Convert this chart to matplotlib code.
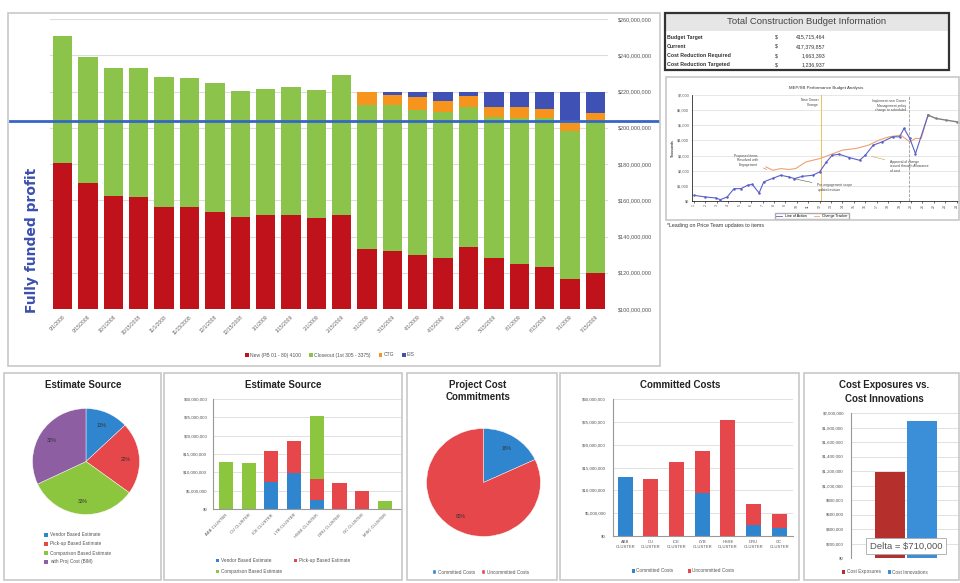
import numpy as np
import matplotlib.pyplot as plt
from matplotlib.patches import Rectangle
from matplotlib.ticker import FuncFormatter

plt.rcParams['font.family'] = ['Liberation Sans', 'DejaVu Sans']

# ---- main stacked chart (values in $M) ----
dates = ['9/1/2008', '9/15/2008', '10/1/2008', '10/15/2008', '11/1/2008', '11/15/2008',
         '12/1/2008', '12/15/2008', '1/1/2009', '1/15/2009', '2/1/2009', '2/15/2009',
         '3/1/2009', '3/15/2009', '4/1/2009', '4/15/2009', '5/1/2009', '5/15/2009',
         '6/1/2009', '6/15/2009', '7/1/2009', '7/15/2009']
new_pb = [180.6, 169.5, 162.3, 161.8, 156.3, 156.3, 153.5, 150.8, 151.9, 151.9, 150.2,
          151.9, 133.1, 132.0, 129.8, 128.1, 134.2, 128.1, 124.8, 123.2, 116.6, 119.9]
closeout = [70.0, 69.5, 70.7, 71.2, 71.7, 71.1, 71.2, 69.5, 69.5, 70.6, 70.6,
            77.2, 79.4, 80.5, 80.0, 80.6, 77.2, 77.8, 80.6, 82.2, 81.6, 84.4]
ctg = [0, 0, 0, 0, 0, 0, 0, 0, 0, 0, 0,
       0, 7.2, 5.6, 7.2, 6.1, 6.1, 5.5, 6.0, 4.9, 5.5, 3.8]
eis = [0, 0, 0, 0, 0, 0, 0, 0, 0, 0, 0,
       0, 0, 1.6, 2.7, 4.9, 2.2, 8.3, 8.3, 9.4, 16.0, 11.6]
fully_funded = 203.7

# ---- budget table ----
tbl_labels = ['Budget Target', 'Current', 'Cost Reduction Required', 'Cost Reduction Targeted']
tbl_values = [415715464, 417379857, 1663393, 1236937]

# ---- performance line chart (thousands) ----
act_x = [0, 1, 1.9, 2.3, 2.9, 3.5, 4.1, 4.7, 5.1, 5.7, 6.1, 6.9, 7.6, 8.3, 8.8, 9.5, 10.4,
         11, 11.6, 12.1, 12.7, 13.6, 14.5, 15, 15.7, 16.5, 17.4, 18, 18.4, 18.9, 19.4, 20.5]
act_y = [375, 265, 200, 90, 265, 815, 815, 1040, 1100, 530, 1260, 1500, 1700, 1590, 1480,
         1630, 1700, 1920, 2580, 3020, 3090, 2870, 2690, 3020, 3690, 3910, 4240, 4240,
         4790, 4130, 3130, 5670]
tgt_x = [6.3, 6.9, 7.6, 8.3, 8.9, 9.8, 11, 11.8, 13, 14.2, 15.3, 16.2, 17.1, 18.1, 18.9,
         19.4, 19.9, 20.5]
tgt_y = [2250, 2030, 2140, 2080, 2140, 2580, 2800, 3020, 3360, 3470, 3690, 4020, 4240,
         4350, 3910, 4130, 4130, 5670]
fc_x = [20.5, 21.2, 22.1, 23, 23.4]
fc_y = [5670, 5450, 5340, 5230, 5120]

# ---- estimate source ----
est_share = [13, 22, 33, 32]
est_names = ['Vendor Based Estimate', 'Pick-up Based Estimate',
             'Comparison Based Estimate', 'with Proj Cost (BIM)']
clusters = ['ABB CLUSTER', 'CU CLUSTER', 'ICE CLUSTER', 'LYB CLUSTER', 'HSSE CLUSTER',
            'DRU CLUSTER', 'GC CLUSTER', 'MISC CLUSTER']
est_vendor = [0, 0, 7.5, 9.7, 2.5, 0, 0, 0]
est_pickup = [0, 0, 8.4, 8.9, 5.7, 7.1, 4.8, 0]
est_comp = [12.9, 12.5, 0, 0, 17.3, 0, 0, 2.1]

# ---- commitments ----
commit_share = [18, 82]
cc_clusters = ['ABB\nCLUSTER', 'CU\nCLUSTER', 'ICE\nCLUSTER', 'LYB\nCLUSTER',
               'HSSE\nCLUSTER', 'DRU\nCLUSTER', 'GC\nCLUSTER']
committed = [13.0, 0, 0, 9.5, 0, 2.5, 1.8]
uncommitted = [0, 12.5, 16.2, 9.2, 25.3, 4.6, 3.1]

# ---- exposures ----
exposure = 1180000
innovation = 1890000

RED, GREEN, ORANGE, NAVY = '#c0121a', '#8cc34a', '#f7941e', '#3f51b5'
BLUE2, RED2, GREEN2, PURPLE = '#2f86cf', '#e5474a', '#8cc63f', '#8e5ea2'

W, H = 960, 583
fig = plt.figure(figsize=(9.6, 5.83), dpi=100)


def box(x0, y0, x1, y1):
    return [x0 / W, 1 - y1 / H, (x1 - x0) / W, (y1 - y0) / H]


def fx(x, y):
    return (x / W, 1 - y / H)


def panel(x0, y0, x1, y1, ec='#c8c8c8', lw=1.2, fc='none', z=0):
    fig.patches.append(Rectangle(fx(x0, y1), (x1 - x0) / W, (y1 - y0) / H,
                                 transform=fig.transFigure, fc=fc, ec=ec, lw=lw, zorder=z))


def ftext(x, y, s, **kw):
    fig.text(x / W, 1 - y / H, s, **kw)


def money(v, p):
    return '$0' if v == 0 else '${:,.0f}'.format(v)


def clean(ax):
    for s in ax.spines.values():
        s.set_visible(False)


for p in [(8, 13, 660, 366), (666, 77, 959, 220), (4, 373, 161, 580), (164, 373, 402, 580),
          (407, 373, 557, 580), (560, 373, 799, 580), (804, 373, 959, 580)]:
    panel(*p)

# main chart
ax = fig.add_axes(box(50, 19, 608, 309))
x = np.arange(len(dates))
bottom = np.zeros(len(x))
for vals, col, lab in [(new_pb, RED, 'New (PB 01 - 80) 4100'),
                       (closeout, GREEN, 'Closeout (1st 305 - 3375)'),
                       (ctg, ORANGE, 'CTG'), (eis, NAVY, 'EIS')]:
    ax.bar(x, vals, 0.76, bottom=bottom, color=col, label=lab, zorder=2)
    bottom += np.array(vals)
ax.set_xlim(-0.5, 21.5)
ax.set_ylim(100, 260)
ax.yaxis.tick_right()
ax.set_yticks(np.arange(100, 261, 20))
ax.yaxis.set_major_formatter(FuncFormatter(lambda v, p: '${:,.0f}'.format(v * 1e6)))
ax.tick_params(axis='y', length=0, labelsize=4, pad=7, colors='#555')
ax.grid(axis='y', color='#dcdcdc', lw=0.8, zorder=0)
clean(ax)
ax.set_xticks(x)
ax.set_xticklabels(dates, rotation=45, ha='right', rotation_mode='anchor', fontsize=3.6, color='#666')
ax.tick_params(axis='x', length=0, pad=4)
ax.axhline(fully_funded, xmin=-0.072, xmax=1.09, color='#3566c6', lw=2, clip_on=False, zorder=3)
ax.legend(loc='center', bbox_to_anchor=fx(330, 355), bbox_transform=fig.transFigure, ncol=4,
          fontsize=3.6, frameon=False, handlelength=0.7, handleheight=0.7, columnspacing=1.6,
          handletextpad=0.3, labelcolor='#555')
ftext(32, 240, 'Fully funded profit', rotation=90, color='#3c4fae', fontsize=10,
      fontweight='bold', ha='center', va='center', family='DejaVu Sans')

# budget table
panel(665, 13, 949, 31, ec='none', fc='#e6e6e6')
panel(665, 13, 949, 70, ec='#333333', lw=1.6, z=3)
ftext(807, 22, 'Total Construction Budget Information', ha='center', va='center',
      fontsize=6.8, color='#444')
for i, (lab, val) in enumerate(zip(tbl_labels, tbl_values)):
    yy = 37 + i * 9.3
    ftext(667, yy, lab, fontsize=3.8, fontweight='bold', va='center', color='#333')
    ftext(775, yy, '$', fontsize=3.8, va='center', color='#333')
    ftext(825, yy, '{:,}'.format(val), fontsize=3.8, va='center', ha='right', color='#333')

# performance chart
lx = fig.add_axes(box(692, 95, 960, 201))
lx.plot(act_x, act_y, color='#5a5fc8', lw=0.8, marker='o', ms=0.8, zorder=3)
lx.plot(tgt_x, tgt_y, color='#f0a070', lw=0.8, zorder=2)
lx.plot(fc_x, fc_y, color='#808080', lw=1.0, marker='o', ms=0.8, zorder=3)
lx.axvline(11.1, color='#e8b84a', lw=0.6)
lx.axvline(18.86, color='#999999', lw=0.6, ls='--')
lx.set_xlim(-0.18, 23.3)
lx.set_ylim(0, 7000)
lx.set_yticks(np.arange(0, 7001, 1000))
lx.yaxis.set_major_formatter(FuncFormatter(money))
lx.set_xticks(range(24))
lx.set_xticklabels([str(i + 1) for i in range(24)], rotation=90, fontsize=2.6, color='#555')
lx.tick_params(axis='y', labelsize=2.8, length=0, pad=2, colors='#555')
lx.tick_params(axis='x', length=1.5, width=0.4, pad=1)
lx.grid(axis='y', color='#dddddd', lw=0.5)
clean(lx)
lx.spines['left'].set_visible(True)
lx.spines['bottom'].set_visible(True)
lx.spines['left'].set_linewidth(0.5)
lx.spines['bottom'].set_linewidth(0.5)
lx.set_ylabel('Thousands', fontsize=2.6, labelpad=2)
lx.set_title('MEP/SB Performance Budget Analysis', fontsize=3.2, pad=4, color='#333')
akw = dict(fontsize=2.4, color='#444')
lx.text(10.9, 6500, 'New Owner\nChange', ha='right', va='center', **akw)
lx.text(18.6, 6300, 'Implement new Owner\nManagement policy\nchange to scheduled', ha='right',
        va='center', **akw)
lx.annotate('Proposed items\nResolved with\nEngagement', xy=(6.6, 2000), xytext=(5.6, 2700),
            ha='right', va='center', arrowprops=dict(arrowstyle='-', lw=0.4, color='#c07070'), **akw)
lx.annotate('Pre-engagement scope\nupdate/revision', xy=(8.6, 1500), xytext=(10.8, 900),
            ha='left', va='center', arrowprops=dict(arrowstyle='-', lw=0.4, color='#555'), **akw)
lx.annotate('Approval of change\nissued through Allowance\nof cost', xy=(15.3, 3000),
            xytext=(17.2, 2300), ha='left', va='center',
            arrowprops=dict(arrowstyle='-', lw=0.4, color='#d0a040'), **akw)
lx.legend([plt.Line2D([], [], color='#5a5fc8', lw=0.6), plt.Line2D([], [], color='#f0a070', lw=0.6)],
          ['Line of Action', 'Change Tracker'], loc='center', bbox_to_anchor=fx(812, 216),
          bbox_transform=fig.transFigure, ncol=2, fontsize=2.6, handlelength=1.5,
          fancybox=False, edgecolor='#999', borderpad=0.3)
ftext(667, 225, '*Leading on Price Team updates to items', fontsize=3.8, va='center', color='#333')

# estimate source pie
px = fig.add_axes(box(32, 408, 140, 515))
px.pie(est_share, colors=[BLUE2, RED2, GREEN2, PURPLE], startangle=90, counterclock=False,
       autopct='%d%%', pctdistance=0.75, textprops=dict(fontsize=3.6, color='#333'),
       wedgeprops=dict(ec='white', lw=0.3))
px.set_aspect('auto')
px.set_xlim(-1.01, 1.01)
px.set_ylim(-1.01, 1.01)
ftext(83, 385, 'Estimate Source', ha='center', va='center', fontsize=7, fontweight='bold',
      color='#222')
for i, (nm, col) in enumerate(zip(est_names, [BLUE2, RED2, GREEN2, PURPLE])):
    yy = 535 + i * 9
    panel(44, yy - 1.8, 47.6, yy + 1.8, ec='none', fc=col)
    ftext(50, yy, nm, fontsize=3.4, va='center', color='#555')

# estimate source bars
bx = fig.add_axes(box(213, 399, 402, 509))
xe = np.arange(len(clusters))
bx.bar(xe, est_vendor, 0.62, color=BLUE2, label='Vendor Based Estimate', zorder=2)
bx.bar(xe, est_pickup, 0.62, bottom=est_vendor, color=RED2, label='Pick-up Based Estimate', zorder=2)
bx.bar(xe, est_comp, 0.62, bottom=np.add(est_vendor, est_pickup), color=GREEN2,
       label='Comparison Based Estimate', zorder=2)
bx.set_xlim(-0.57, 7.75)
bx.set_ylim(0, 30)
bx.set_yticks(np.arange(0, 31, 5))
bx.yaxis.set_major_formatter(FuncFormatter(lambda v, p: money(v * 1e6, p)))
bx.tick_params(axis='y', labelsize=3.2, length=0, pad=4, colors='#555')
bx.set_xticks(xe)
bx.set_xticklabels(clusters, rotation=45, ha='right', rotation_mode='anchor', fontsize=3, color='#555')
bx.tick_params(axis='x', length=0, pad=3)
bx.grid(axis='y', color='#dcdcdc', lw=0.6, zorder=0)
clean(bx)
bx.spines['left'].set_visible(True)
bx.spines['left'].set_color('#999')
bx.spines['bottom'].set_visible(True)
bx.spines['bottom'].set_color('#999')
h, l = bx.get_legend_handles_labels()
bx.legend([h[0], h[2], h[1]], [l[0], l[2], l[1]], loc='center', bbox_to_anchor=fx(283, 566),
          bbox_transform=fig.transFigure, ncol=2, fontsize=3.4, frameon=False, handlelength=0.7,
          handleheight=0.7, handletextpad=0.3, columnspacing=2.5, labelspacing=1.2, labelcolor='#555')
ftext(283, 385, 'Estimate Source', ha='center', va='center', fontsize=7, fontweight='bold',
      color='#222')

# commitments pie
qx = fig.add_axes(box(426, 428, 541, 537))
qx.pie(commit_share, colors=[BLUE2, RED2], startangle=90, counterclock=False, autopct='%d%%',
       pctdistance=0.75, textprops=dict(fontsize=3.6, color='#333'),
       wedgeprops=dict(ec='white', lw=0.3))
qx.set_aspect('auto')
qx.set_xlim(-1.01, 1.01)
qx.set_ylim(-1.01, 1.01)
ftext(478, 391, 'Project Cost\nCommitments', ha='center', va='center', fontsize=7,
      fontweight='bold', color='#222', linespacing=1.3)
qx.legend(['Committed Costs', 'Uncommitted Costs'], loc='center', bbox_to_anchor=fx(481, 572),
          bbox_transform=fig.transFigure, ncol=2, fontsize=3.4, frameon=False, handlelength=0.7,
          handleheight=0.7, handletextpad=0.3, columnspacing=1.5, labelcolor='#555')

# committed costs
cx = fig.add_axes(box(613, 399, 793, 536))
xc = np.arange(len(cc_clusters))
cx.bar(xc, committed, 0.58, color=BLUE2, label='Committed Costs', zorder=2)
cx.bar(xc, uncommitted, 0.58, bottom=committed, color=RED2, label='Uncommitted Costs', zorder=2)
cx.set_xlim(-0.47, 6.53)
cx.set_ylim(0, 30)
cx.set_yticks(np.arange(0, 31, 5))
cx.yaxis.set_major_formatter(FuncFormatter(lambda v, p: money(v * 1e6, p)))
cx.tick_params(axis='y', labelsize=3.2, length=0, pad=5, colors='#555')
cx.set_xticks(xc)
cx.set_xticklabels(cc_clusters, fontsize=3, color='#555', linespacing=1.4)
cx.tick_params(axis='x', length=0, pad=3)
cx.grid(axis='y', color='#dcdcdc', lw=0.6, zorder=0)
clean(cx)
cx.spines['left'].set_visible(True)
cx.spines['left'].set_color('#999')
cx.spines['bottom'].set_visible(True)
cx.spines['bottom'].set_color('#999')
cx.legend(loc='center', bbox_to_anchor=fx(683, 571), bbox_transform=fig.transFigure, ncol=2,
          fontsize=3.4, frameon=False, handlelength=0.7, handleheight=0.7, handletextpad=0.3,
          columnspacing=3, labelcolor='#555')
ftext(680, 385, 'Committed Costs', ha='center', va='center', fontsize=7, fontweight='bold',
      color='#222')

# cost exposures vs innovations
ex = fig.add_axes(box(851, 413, 960, 558))
ex.bar([0], [exposure], 0.94, color='#b5302d', label='Cost Exposures', zorder=2)
ex.bar([1], [innovation], 0.94, color='#3b8fd8', label='Cost Innovations', zorder=2)
ex.set_xlim(-1.22, 2.17)
ex.set_ylim(0, 2000000)
ex.set_yticks(np.arange(0, 2000001, 200000))
ex.yaxis.set_major_formatter(FuncFormatter(money))
ex.tick_params(axis='y', labelsize=3.2, length=0, pad=5, colors='#555')
ex.set_xticks([])
ex.grid(axis='y', color='#dcdcdc', lw=0.6, zorder=0)
clean(ex)
ex.spines['left'].set_visible(True)
ex.spines['left'].set_color('#999')
ex.text(0.5, 165000, 'Delta = ${:,}'.format(innovation - exposure), ha='center', va='center',
        fontsize=6.8, color='#555', zorder=5,
        bbox=dict(boxstyle='square,pad=0.4', fc='white', ec='#aaa', lw=0.6))
ex.legend(loc='center', bbox_to_anchor=fx(885, 572), bbox_transform=fig.transFigure, ncol=2,
          fontsize=3.4, frameon=False, handlelength=0.7, handleheight=0.7, handletextpad=0.3,
          columnspacing=1.5, labelcolor='#555')
ftext(884, 392, 'Cost Exposures vs.\nCost Innovations', ha='center', va='center', fontsize=7,
      fontweight='bold', color='#222', linespacing=1.4)

fig.savefig('out.png', dpi=100)
